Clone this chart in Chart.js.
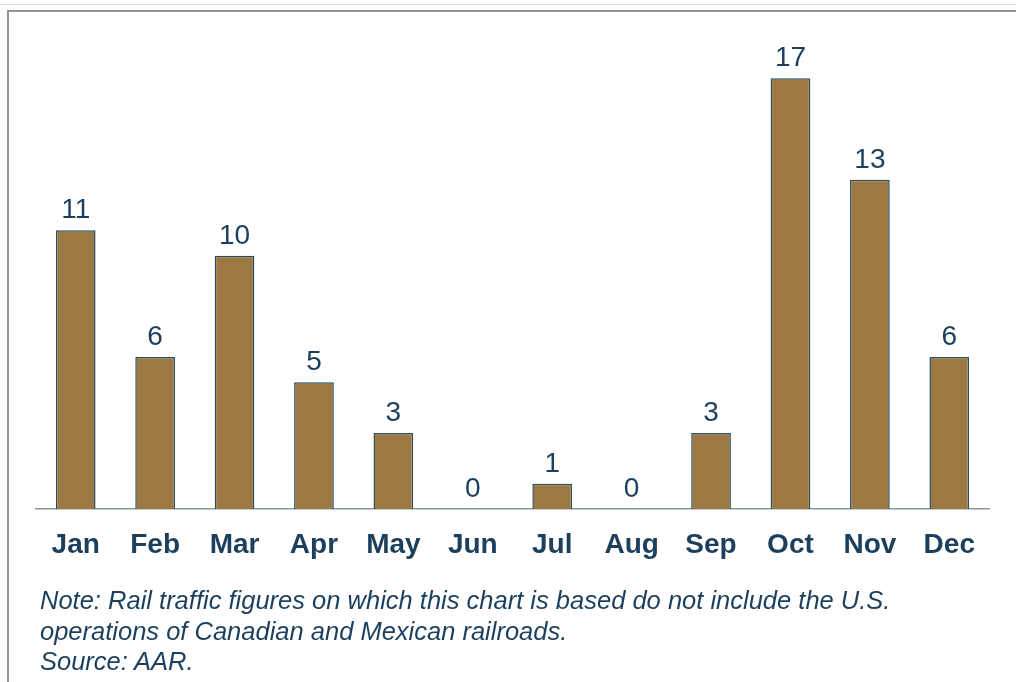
<!DOCTYPE html>
<html>
<head>
<meta charset="utf-8">
<script src="https://cdn.jsdelivr.net/npm/chart.js@4.4.0/dist/chart.umd.min.js"></script>
<style>
  body { margin: 0; background: #fff; width: 1016px; height: 682px; overflow: hidden; position: relative; }
  #topline { position: absolute; left: 0; top: 4px; width: 1016px; height: 1px; background: #dcdcdc; }
  #frame { position: absolute; left: 7px; top: 10px; width: 1020px; height: 700px; border-top: 2px solid #8f9696; border-left: 2px solid #8f9696; }
  #wrap { position: absolute; left: 0; top: 0; width: 1016px; height: 682px; }
  #note { position: absolute; left: 40px; top: 585px; font-family: "Liberation Sans", Arial, sans-serif; font-style: italic; font-size: 25.5px; line-height: 30.5px; color: #1b3f5c; }
</style>
</head>
<body>
<div id="topline"></div>
<div id="frame"></div>
<div id="wrap"><canvas id="myChart"></canvas></div>
<div id="note">Note: Rail traffic figures on which this chart is based do not include the U.S.<br>operations of Canadian and Mexican railroads.<br>Source: AAR.</div>
<script>
// months and counts
const months = ["Jan", "Feb", "Mar", "Apr", "May", "Jun", "Jul", "Aug", "Sep", "Oct", "Nov", "Dec"];
const counts = [11, 6, 10, 5, 3, 0, 1, 0, 3, 17, 13, 6];

// value above each bar
const barLabels = {
    id: "barLabels",
    afterDatasetsDraw(chart) {
        const ctx = chart.ctx;
        const meta = chart.getDatasetMeta(0);
        ctx.save();
        ctx.font = "28px 'Liberation Sans', Arial, sans-serif";
        ctx.fillStyle = "#1b3f5c";
        ctx.textAlign = "center";
        ctx.textBaseline = "alphabetic";
        meta.data.forEach((bar, i) => {
            ctx.fillText(counts[i], bar.x, bar.y - 12);
        });
        ctx.restore();
    }
};

new Chart(document.getElementById("myChart"), {
    type: "bar",
    data: {
        labels: months,
        datasets: [{
            data: counts,
            backgroundColor: "#9c7942",
            borderColor: "#2f4b5e",
            borderWidth: 1.5,
            barPercentage: 0.5,
            categoryPercentage: 1
        }]
    },
    options: {
        responsive: true,
        maintainAspectRatio: false,
        animation: false,
        layout: { padding: { left: 36, right: 27, top: 53, bottom: 0 } },
        plugins: { legend: { display: false }, tooltip: { enabled: false } },
        scales: {
            x: {
                grid: { display: false, drawTicks: false },
                border: { display: true, color: "#8a979c", width: 1.5 },
                ticks: {
                    padding: 19,
                    color: "#1b3f5c",
                    font: { family: "'Liberation Sans', Arial, sans-serif", size: 28, weight: "bold" }
                },
                afterFit: s => { s.height = 173; }
            },
            y: {
                display: false,
                min: 0,
                max: 18
            }
        }
    },
    plugins: [barLabels]
});
</script>
</body>
</html>
